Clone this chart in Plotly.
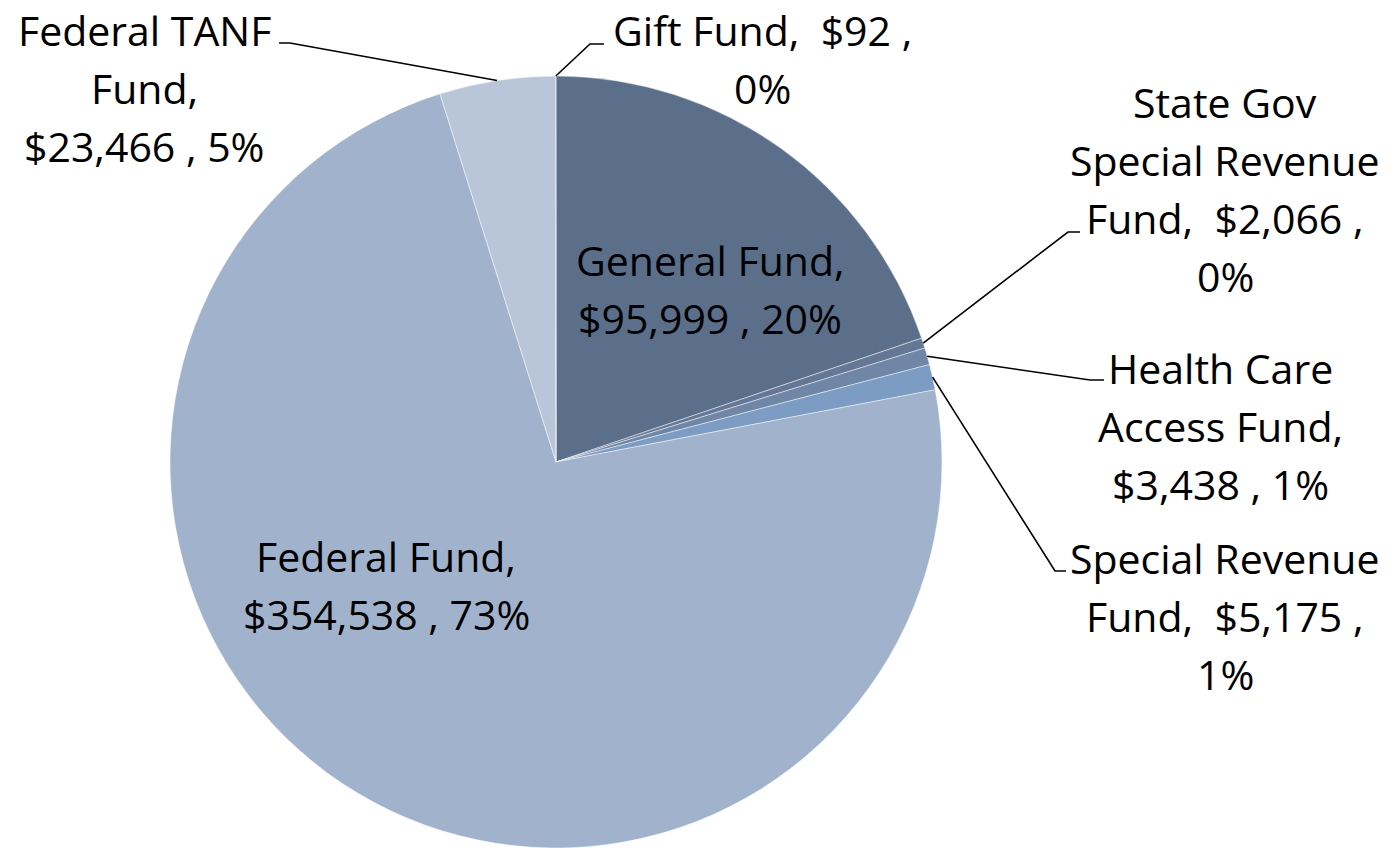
import math
import plotly.graph_objects as go

# ---- data ----
funds = ["General Fund", "State Gov Special Revenue Fund", "Health Care Access Fund",
         "Special Revenue Fund", "Federal Fund", "Federal TANF Fund", "Gift Fund"]
amounts = [95999, 2066, 3438, 5175, 354538, 23466, 92]
percent_labels = ["20%", "0%", "1%", "1%", "73%", "5%", "0%"]
colors = ["#5B6F8B", "#647896", "#6F86A6", "#7D9CC3", "#A1B3CC", "#B9C6DA", "#6C82A2"]

# label text lines (as in the reference)
label_lines = {
    "General Fund": ["General Fund,", "$95,999 , 20%"],
    "State Gov Special Revenue Fund": ["State Gov", "Special Revenue", "Fund,  $2,066 ,", "0%"],
    "Health Care Access Fund": ["Health Care", "Access Fund,", "$3,438 , 1%"],
    "Special Revenue Fund": ["Special Revenue", "Fund,  $5,175 ,", "1%"],
    "Federal Fund": ["Federal Fund,", "$354,538 , 73%"],
    "Federal TANF Fund": ["Federal TANF", "Fund,", "$23,466 , 5%"],
    "Gift Fund": ["Gift Fund,  $92 ,", "0%"],
}

W, H = 1399, 848
CX, CY, R = 556, 462, 386
LINE_H = 58
FONT = "Open Sans"
FS = 41

# label placement (pixel, first line centre) and leader elbow points
label_pos = {
    "General Fund": (710, 260),
    "State Gov Special Revenue Fund": (1225, 102),
    "Health Care Access Fund": (1220, 368),
    "Special Revenue Fund": (1225, 558),
    "Federal Fund": (386, 556),
    "Federal TANF Fund": (144, 30),
    "Gift Fund": (762, 30),
}
leader_elbow = {
    "State Gov Special Revenue Fund": ((1068, 232), (1080, 232)),
    "Health Care Access Fund": ((1090, 380), (1104, 380)),
    "Special Revenue Fund": ((1055, 571), (1066, 571)),
    "Federal TANF Fund": ((290, 43), (279, 43)),
    "Gift Fund": ((590, 44), (604, 44)),
}

fig = go.Figure()
fig.add_trace(go.Pie(
    labels=funds, values=amounts, sort=False, direction="clockwise", rotation=0,
    marker=dict(colors=colors, line=dict(color="rgba(255,255,255,0.45)", width=1)),
    textinfo="none", showlegend=False,
    domain=dict(x=[(CX - R) / W, (CX + R) / W], y=[1 - (CY + R) / H, 1 - (CY - R) / H]),
))

total = sum(amounts)
cum = 0
shapes = []
annotations = []
for name, val in zip(funds, amounts):
    mid = (cum + val / 2) / total * 2 * math.pi
    cum += val
    ex = CX + R * math.sin(mid)
    ey = CY - R * math.cos(mid)
    if name in leader_elbow:
        (x1, y1), (x2, y2) = leader_elbow[name]
        path = f"M {ex:.1f} {ey:.1f} L {x1} {y1} L {x2} {y2}"
        shapes.append(dict(type="path", path=path, xref="x", yref="y",
                           line=dict(color="black", width=1.6)))
    lx, ly = label_pos[name]
    for i, t in enumerate(label_lines[name]):
        annotations.append(dict(x=lx, y=ly + i * LINE_H, xref="x", yref="y", text=t,
                                showarrow=False, xanchor="center", yanchor="middle",
                                font=dict(family=FONT, size=FS, color="black")))

fig.update_layout(
    width=W, height=H, margin=dict(l=0, r=0, t=0, b=0),
    paper_bgcolor="white", plot_bgcolor="rgba(0,0,0,0)",
    xaxis=dict(range=[0, W], visible=False, domain=[0, 1], fixedrange=True),
    yaxis=dict(range=[H, 0], visible=False, domain=[0, 1], fixedrange=True),
    shapes=shapes, annotations=annotations,
)
fig.write_html("out.html", config={"displayModeBar": False},
               post_script="document.body.style.margin='0';")
